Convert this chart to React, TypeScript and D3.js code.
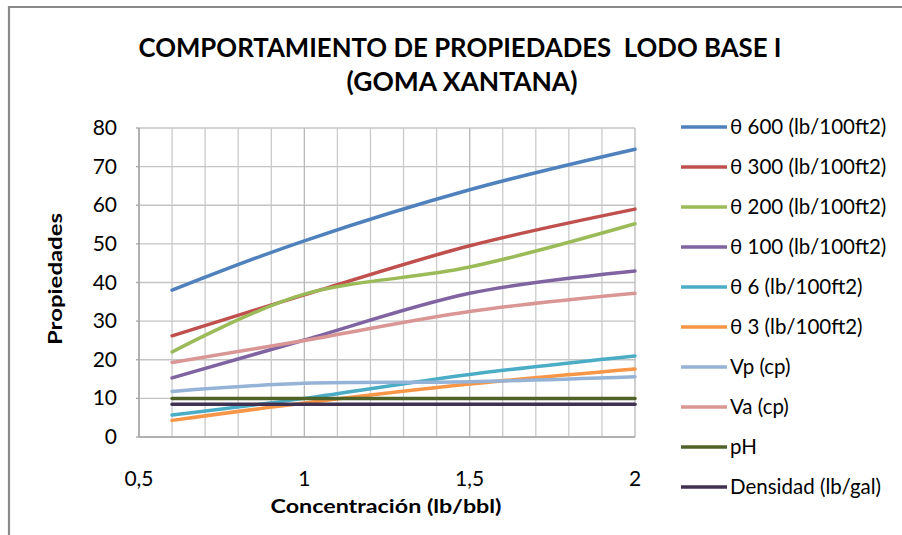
import React from "react";
import * as d3 from "d3";

const concentrations = [0.6, 1.0, 1.5, 2.0];
const seriesNames = [
  "θ 600 (lb/100ft2)",
  "θ 300 (lb/100ft2)",
  "θ 200 (lb/100ft2)",
  "θ 100 (lb/100ft2)",
  "θ 6 (lb/100ft2)",
  "θ 3 (lb/100ft2)",
  "Vp (cp)",
  "Va (cp)",
  "pH",
  "Densidad (lb/gal)",
];
const theta600 = [38, 50.8, 64, 74.5];
const theta300 = [26.2, 36.8, 49.5, 59];
const theta200 = [22, 37, 44, 55.2];
const theta100 = [15.3, 25.1, 37.2, 43];
const theta6 = [5.7, 10, 16.2, 21];
const theta3 = [4.3, 8.8, 13.7, 17.6];
const vp = [11.8, 13.9, 14.3, 15.6];
const va = [19.3, 25, 32.5, 37.2];
const ph = [10, 10, 10, 10];
const densidad = [8.45, 8.45, 8.45, 8.45];
const seriesValues = [theta600, theta300, theta200, theta100, theta6, theta3, vp, va, ph, densidad];
const seriesColors = [
  "#4F81BD", "#C0504D", "#9BBB59", "#8064A2", "#4BACC6",
  "#F79646", "#95B3D7", "#D99694", "#4F6228", "#3F3151",
];
const yTicks = [0, 10, 20, 30, 40, 50, 60, 70, 80];
const xTicks = [0.5, 1, 1.5, 2];
const xTickLabels = ["0,5", "1", "1,5", "2"];
const xGrid = d3.range(0, 16).map((i) => 0.5 + i * 0.1);

const W = 902;
const H = 535;
const FONT = "Lato, 'Open Sans', sans-serif";

export default function App() {
  const x = d3.scaleLinear().domain([0.5, 2]).range([139, 635]);
  const y = d3.scaleLinear().domain([0, 80]).range([437, 128]);
  const line = d3
    .line<number>()
    .x((_, i) => x(concentrations[i]))
    .y((d) => y(d))
    .curve(d3.curveCardinal.tension(0));

  const legendX = 681;
  const legendY0 = 127;
  const legendStep = 40;

  return (
    <svg width={W} height={H} style={{ position: "absolute", left: 0, top: 0, background: "#fff" }}>
      <rect x={0} y={0} width={W} height={H} fill="#fff" />
      {/* outer chart border */}
      <path d={`M9,${H} L9,7 L${W},7`} fill="none" stroke="#8a8a8a" strokeWidth={2.2} />

      {/* title */}
      <text x={460} y={57} textAnchor="middle" fontFamily={FONT} fontWeight="bold" fontSize={26} fill="#000" style={{ whiteSpace: "pre" }} textLength={643} lengthAdjust="spacingAndGlyphs">
        COMPORTAMIENTO DE PROPIEDADES  LODO BASE I
      </text>
      <text x={462} y={91} textAnchor="middle" fontFamily={FONT} fontWeight="bold" fontSize={26} fill="#000" textLength={231} lengthAdjust="spacingAndGlyphs">
        (GOMA XANTANA)
      </text>

      {/* grid */}
      {yTicks.map((t) => (
        <line key={"h" + t} x1={x(0.5)} x2={x(2)} y1={y(t)} y2={y(t)} stroke="#c4c4c4" strokeWidth={1.3} />
      ))}
      {xGrid.map((t, i) => (
        <line key={"v" + i} x1={x(t)} x2={x(t)} y1={y(0)} y2={y(80)} stroke={i % 5 === 0 ? "#b8b8b8" : "#cacaca"} strokeWidth={1.3} />
      ))}
      {/* axes */}
      <line x1={x(0.5)} x2={x(0.5)} y1={y(0)} y2={y(80)} stroke="#a6a6a6" strokeWidth={1.5} />
      <line x1={x(0.5)} x2={x(2)} y1={y(0)} y2={y(0)} stroke="#a6a6a6" strokeWidth={1.5} />
      {yTicks.map((t) => (
        <line key={"yt" + t} x1={x(0.5) - 3} x2={x(0.5)} y1={y(t)} y2={y(t)} stroke="#a6a6a6" strokeWidth={1.3} />
      ))}

      {/* y tick labels */}
      {yTicks.map((t) => (
        <text key={"yl" + t} x={117} y={y(t) + 7} textAnchor="end" fontFamily={FONT} fontSize={21} fill="#000">
          {t}
        </text>
      ))}
      {/* x tick labels */}
      {xTicks.map((t, i) => (
        <text key={"xl" + t} x={x(t)} y={486} textAnchor="middle" fontFamily={FONT} fontSize={21} fill="#000">
          {xTickLabels[i]}
        </text>
      ))}

      {/* axis titles */}
      <text x={386} y={513} textAnchor="middle" fontFamily={FONT} fontWeight="bold" fontSize={19} fill="#000" textLength={231} lengthAdjust="spacingAndGlyphs">
        Concentración (lb/bbl)
      </text>
      <text transform={`translate(62,279) rotate(-90)`} textAnchor="middle" fontFamily={FONT} fontWeight="bold" fontSize={19} fill="#000" textLength={132} lengthAdjust="spacingAndGlyphs">
        Propiedades
      </text>

      {/* series */}
      {seriesValues.map((vals, i) => (
        <path key={"s" + i} d={line(vals) || ""} fill="none" stroke={seriesColors[i]} strokeWidth={3.5} strokeLinecap="round" />
      ))}

      {/* legend */}
      {seriesNames.map((name, i) => (
        <g key={"lg" + i}>
          <line x1={legendX} x2={legendX + 46} y1={legendY0 + i * legendStep} y2={legendY0 + i * legendStep} stroke={seriesColors[i]} strokeWidth={3.5} />
          <text x={legendX + 49} y={legendY0 + i * legendStep + 7} fontFamily={FONT} fontSize={20.5} fill="#000">
            {name}
          </text>
        </g>
      ))}
    </svg>
  );
}
